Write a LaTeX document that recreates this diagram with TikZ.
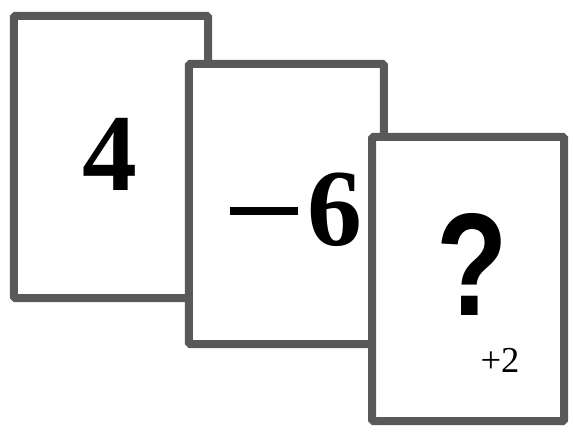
\documentclass[tikz,border=0pt]{standalone}
\usepackage{fontspec}
\setmainfont{Liberation Serif}
\newfontfamily\qfont{Liberation Sans}
\usetikzlibrary{positioning}

\tikzset{
    card/.style={draw=black!65, line width=0.2cm, fill=white, rounded corners=1pt,
        minimum width=4.85cm, minimum height=7.05cm, inner sep=0pt},
    bignum/.style={font=\fontsize{78}{80}\selectfont\bfseries, inner sep=0pt},
}

\begin{document}
\begin{tikzpicture}
        \useasboundingbox (0,0) rectangle (14.325,10.85);
        % the three cards, each one laid over the one before
        \node[card] (cardA) at (2.775,6.925) {};
        \node[bignum] (four) at (2.75,7.0) {4};
        \node[card, minimum width=4.875cm, minimum height=7.0cm] (cardB) at (7.16,5.75) {};
        \node[bignum] (minussix) at (7.4,5.6) {\rule[0.78cm]{1.7cm}{0.2cm}\hspace{0.25cm}6};
        \node[card, minimum width=4.8cm, minimum height=7.1cm] (cardC) at (11.7,3.875) {};
        \node[font=\qfont\fontsize{104}{104}\selectfont\bfseries, xscale=0.8, inner sep=0pt, text depth=0pt] (qmark) at (11.8,4.25) {?};
        \node[font=\fontsize{26}{28}\selectfont, inner sep=0pt] (plustwo) at (12.5,1.85) {+2};
    \end{tikzpicture}
\end{document}
